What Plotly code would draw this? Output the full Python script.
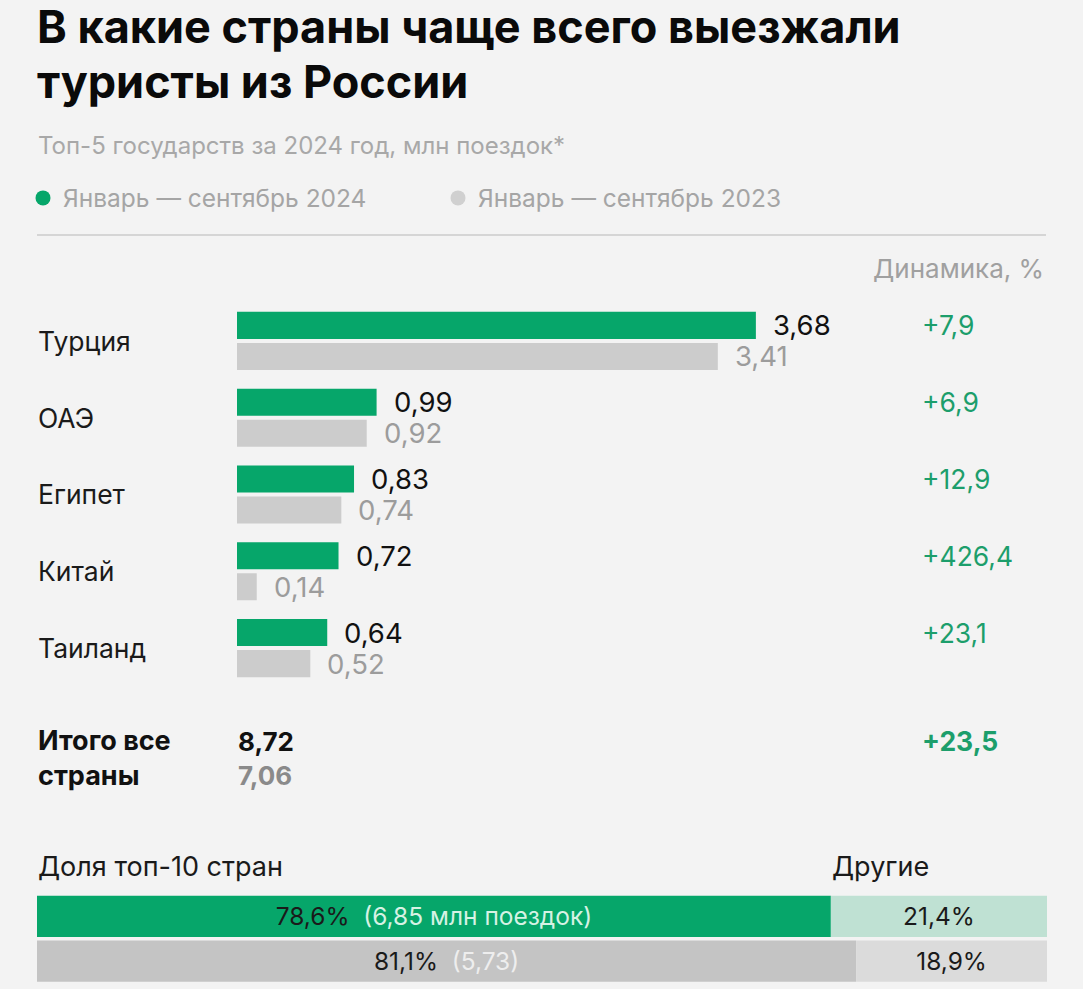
import plotly.graph_objects as go

W, H = 1083, 989

# ---------------- data ----------------
countries = ["Турция", "ОАЭ", "Египет", "Китай", "Таиланд"]
trips_2024 = [3.68, 0.99, 0.83, 0.72, 0.64]
trips_2023 = [3.41, 0.92, 0.74, 0.14, 0.52]
dynamics = ["+7,9", "+6,9", "+12,9", "+426,4", "+23,1"]

total_2024 = "8,72"
total_2023 = "7,06"
total_dyn = "+23,5"

share_rows = ["2024", "2023"]
share_top10 = [78.6, 81.1]
share_other = [21.4, 18.9]
share_top10_labels = ["78,6%", "81,1%"]
share_top10_notes = ["(6,85 млн поездок)", "(5,73)"]
share_other_labels = ["21,4%", "18,9%"]

title_lines = ["В какие страны чаще всего выезжали", "туристы из России"]

# ---------------- style ----------------
GREEN = "#06a66a"
GREEN_TXT = "#1c9e6b"
GRAY_BAR = "#cccccc"
GRAY_TXT = "#9c9c9c"
BG = "#f3f3f3"
FONT = "Inter"
TITLE_FONT = "Inter"


def py(px):
    return 1 - px / H


def px_x(px):
    return px / W


BAR_START = 237
PX_PER_UNIT = 141.0

fig = go.Figure()

fig.add_trace(go.Bar(
    y=countries, x=trips_2024, orientation="h",
    marker=dict(color=GREEN, line=dict(width=0)),
    width=0.352, offset=-0.378, showlegend=False, hoverinfo="skip",
    xaxis="x", yaxis="y",
))
fig.add_trace(go.Bar(
    y=countries, x=trips_2023, orientation="h",
    marker=dict(color=GRAY_BAR, line=dict(width=0)),
    width=0.352, offset=0.026, showlegend=False, hoverinfo="skip",
    xaxis="x", yaxis="y",
))

# legend entries
fig.add_trace(go.Scatter(x=[None], y=[None], mode="markers", name="Январь — сентябрь 2024",
                         marker=dict(color=GREEN, size=15, symbol="circle"), xaxis="x", yaxis="y"))
fig.add_trace(go.Scatter(x=[None], y=[None], mode="markers", name="Январь — сентябрь 2023",
                         marker=dict(color="#d0d0d0", size=15, symbol="circle"), xaxis="x", yaxis="y"))

# bottom share bars
top_text = [f"{a}\u00a0\u00a0<span style='color:{c}'>{b}</span>"
            for a, b, c in zip(share_top10_labels, share_top10_notes, ["#d6f2e4", "#eeeeee"])]
fig.add_trace(go.Bar(
    y=share_rows, x=share_top10, orientation="h",
    marker=dict(color=[GREEN, "#c4c4c4"], line=dict(width=0)),
    width=0.92, text=top_text, textposition="inside", insidetextanchor="middle",
    textfont=dict(family=FONT, size=24.5, color="#1a1a1a"), constraintext="none",
    showlegend=False, hoverinfo="skip", xaxis="x2", yaxis="y2",
))
fig.add_trace(go.Bar(
    y=share_rows, x=share_other, base=share_top10, orientation="h",
    marker=dict(color=["#bfe1d3", "#dbdbdb"], line=dict(width=0)),
    width=0.92, text=share_other_labels, textposition="inside", insidetextanchor="middle",
    textfont=dict(family=FONT, size=24.5, color="#1a1a1a"), constraintext="none",
    showlegend=False, hoverinfo="skip", xaxis="x2", yaxis="y2",
))

ann = []
row_half = 15.5
for c, v24, v23, d in zip(countries, trips_2024, trips_2023, dynamics):
    ann.append(dict(text=c, x=px_x(36), xref="paper", y=c, yref="y", xanchor="left",
                    yanchor="middle", showarrow=False, font=dict(family=FONT, size=26.5, color="#1a1a1a")))
    ann.append(dict(text=f"{v24:.2f}".replace(".", ","), x=v24, xref="x", y=c, yref="y",
                    xanchor="left", yanchor="middle", xshift=15, yshift=row_half, showarrow=False,
                    font=dict(family=FONT, size=27.5, color="#111111")))
    ann.append(dict(text=f"{v23:.2f}".replace(".", ","), x=v23, xref="x", y=c, yref="y",
                    xanchor="left", yanchor="middle", xshift=15, yshift=-row_half, showarrow=False,
                    font=dict(family=FONT, size=27.5, color=GRAY_TXT)))
    ann.append(dict(text=d, x=px_x(920), xref="paper", y=c, yref="y", xanchor="left",
                    yanchor="middle", yshift=row_half, showarrow=False,
                    font=dict(family=FONT, size=26.5, color=GREEN_TXT)))

# header texts
for line, top in zip(title_lines, [-3, 52]):
    ann.append(dict(text=f"<b>{line}</b>", x=px_x(35), y=py(top), xref="paper", yref="paper",
                    xanchor="left", yanchor="top", align="left", showarrow=False,
                    font=dict(family=TITLE_FONT, size=45, color="#0a0a0a", weight=800)))
ann.append(dict(text="Топ-5 государств за 2024 год, млн поездок*", x=px_x(36), y=py(145),
                xref="paper", yref="paper", xanchor="left", yanchor="middle", showarrow=False,
                font=dict(family=FONT, size=24, color="#a8a8a8")))
ann.append(dict(text="Динамика, %", x=px_x(1046), y=py(268), xref="paper", yref="paper",
                xanchor="right", yanchor="middle", showarrow=False,
                font=dict(family=FONT, size=26, color="#a0a0a0")))

# totals
ann.append(dict(text="<b>Итого все<br>страны</b>", x=px_x(36), y=py(758), xref="paper", yref="paper",
                xanchor="left", yanchor="middle", align="left", showarrow=False,
                font=dict(family=FONT, size=27, color="#111111")))
ann.append(dict(text=f"<b>{total_2024}</b>", x=px_x(236), y=py(741), xref="paper", yref="paper",
                xanchor="left", yanchor="middle", showarrow=False,
                font=dict(family=FONT, size=26, color="#111111")))
ann.append(dict(text=f"<b>{total_2023}</b>", x=px_x(236), y=py(775), xref="paper", yref="paper",
                xanchor="left", yanchor="middle", showarrow=False,
                font=dict(family=FONT, size=26, color="#8a8a8a")))
ann.append(dict(text=f"<b>{total_dyn}</b>", x=px_x(920), y=py(741), xref="paper", yref="paper",
                xanchor="left", yanchor="middle", showarrow=False,
                font=dict(family=FONT, size=26.5, color=GREEN_TXT)))

# share section labels
ann.append(dict(text="Доля топ-10 стран", x=px_x(36), y=py(866), xref="paper", yref="paper",
                xanchor="left", yanchor="middle", showarrow=False,
                font=dict(family=FONT, size=27, color="#1a1a1a")))
ann.append(dict(text="Другие", x=px_x(830), y=py(866), xref="paper", yref="paper",
                xanchor="left", yanchor="middle", showarrow=False,
                font=dict(family=FONT, size=27, color="#1a1a1a")))

fig.update_layout(
    width=W, height=H,
    margin=dict(l=0, r=0, t=0, b=0),
    paper_bgcolor=BG, plot_bgcolor="rgba(0,0,0,0)",
    barmode="overlay",
    showlegend=True,
    legend=dict(orientation="h", x=px_x(23), y=py(198), xanchor="left", yanchor="middle",
                font=dict(family=FONT, size=24.5, color="#a5a5a5"), bgcolor="rgba(0,0,0,0)",
                entrywidth=370, entrywidthmode="pixels", itemwidth=30),
    xaxis=dict(domain=[0, 1], range=[-BAR_START / PX_PER_UNIT, (W - BAR_START) / PX_PER_UNIT],
               visible=False, fixedrange=True),
    yaxis=dict(domain=[py(686.5), py(302.5)], autorange="reversed", type="category",
               visible=False, fixedrange=True),
    xaxis2=dict(domain=[px_x(37), px_x(1047)], range=[0, 100], visible=False, fixedrange=True),
    yaxis2=dict(domain=[py(983.5), py(894)], autorange="reversed", type="category",
                visible=False, fixedrange=True, anchor="x2"),
    annotations=ann,
    shapes=[dict(type="line", xref="paper", yref="paper", x0=px_x(37), x1=px_x(1046),
                 y0=py(235), y1=py(235), line=dict(color="#d5d5d5", width=2))],
)

fig.write_html("out.html", config={"displayModeBar": False},
               post_script="document.body.style.margin='0';document.body.style.background='#f3f3f3';")
